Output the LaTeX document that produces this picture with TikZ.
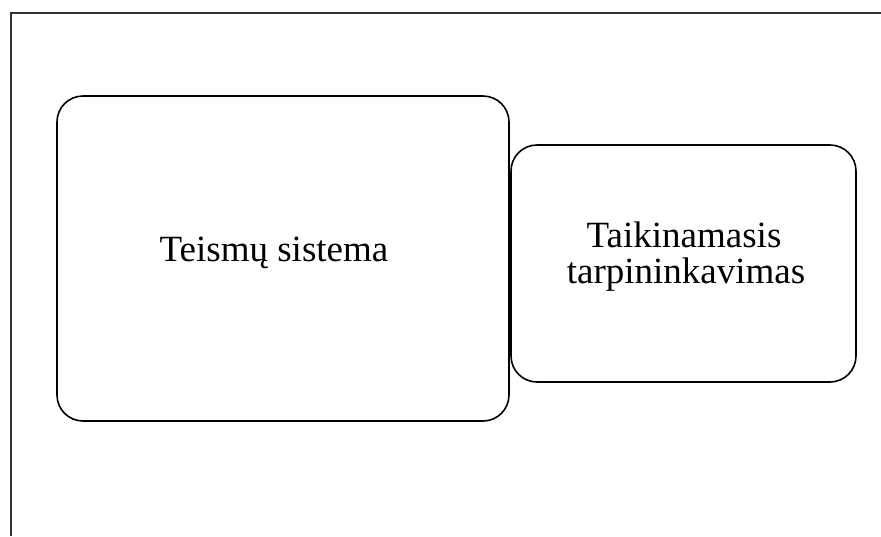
\documentclass[tikz,border=0pt]{standalone}
\usepackage{fontspec}
\setmainfont{Liberation Serif}
\begin{document}
\begin{tikzpicture}[x=1pt,y=-1pt,
  box/.style={draw=black,line width=1.6pt,rounded corners=26pt},
  frameline/.style={draw=black!80,line width=2pt},
  lbl/.style={font=\fontsize{37}{37}\selectfont,anchor=base,inner sep=0pt}]
\useasboundingbox (0,0) rectangle (881,536);
\draw[frameline] (11,536) -- (11,13) -- (881,13);
\draw[box] (57,96) rectangle (509,421);
\draw[box] (511,145) rectangle (856,382);
\node[lbl] (t1) at (274,261) {Teismų sistema};
\node[lbl] (t2a) at (684,247) {Taikinamasis};
\node[lbl] (t2b) at (686,283) {tarpininkavimas};
\end{tikzpicture}
\end{document}
